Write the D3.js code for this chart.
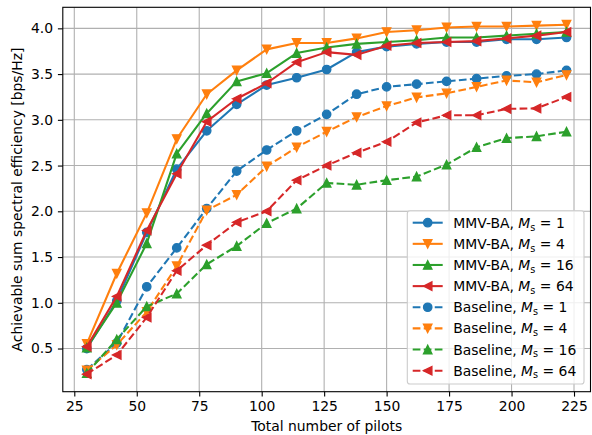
<html>
<head>
    <meta charset="utf-8">
    <title>MMV-BA vs Baseline</title>
    <style>
        body { margin: 0; background: #fff; }
        text { font-family: "DejaVu Sans", sans-serif; }
    </style>
</head>
<body>
<script src="https://cdnjs.cloudflare.com/ajax/libs/d3/7.8.5/d3.min.js"></script>
<script>
    var pilots = [30, 42, 54, 66, 78, 90, 102, 114, 126, 138, 150, 162, 174, 186, 198, 210, 222];
    var mmv1  = [0.50, 1.02, 1.77, 2.46, 2.88, 3.17, 3.38, 3.46, 3.55, 3.74, 3.80, 3.83, 3.85, 3.85, 3.88, 3.88, 3.90];
    var mmv4  = [0.55, 1.32, 1.98, 2.79, 3.28, 3.54, 3.77, 3.84, 3.84, 3.89, 3.96, 3.98, 4.01, 4.02, 4.02, 4.03, 4.04];
    var mmv16 = [0.51, 1.00, 1.65, 2.63, 3.07, 3.42, 3.51, 3.73, 3.79, 3.83, 3.85, 3.87, 3.90, 3.90, 3.92, 3.94, 3.96];
    var mmv64 = [0.52, 1.07, 1.79, 2.41, 2.98, 3.23, 3.40, 3.63, 3.74, 3.71, 3.81, 3.84, 3.85, 3.86, 3.89, 3.92, 3.96];
    var base1  = [0.27, 0.56, 1.175, 1.60, 2.03, 2.44, 2.67, 2.88, 3.06, 3.28, 3.36, 3.39, 3.42, 3.45, 3.48, 3.50, 3.54];
    var base4  = [0.26, 0.54, 0.90, 1.40, 2.01, 2.18, 2.49, 2.70, 2.87, 3.03, 3.15, 3.245, 3.29, 3.36, 3.43, 3.41, 3.49];
    var base16 = [0.23, 0.60, 0.96, 1.10, 1.42, 1.62, 1.87, 2.03, 2.31, 2.29, 2.34, 2.38, 2.51, 2.70, 2.80, 2.82, 2.87];
    var base64 = [0.22, 0.43, 0.84, 1.35, 1.63, 1.88, 2.00, 2.34, 2.50, 2.64, 2.76, 2.97, 3.05, 3.05, 3.12, 3.125, 3.25];
    var xTicks = [25, 50, 75, 100, 125, 150, 175, 200, 225];
    var yTicks = [0.5, 1.0, 1.5, 2.0, 2.5, 3.0, 3.5, 4.0];

    var series = [
        {name: "MMV-BA, ", ms: "1",  values: mmv1,  color: "#1f77b4", marker: "o", dashed: false},
        {name: "MMV-BA, ", ms: "4",  values: mmv4,  color: "#ff7f0e", marker: "v", dashed: false},
        {name: "MMV-BA, ", ms: "16", values: mmv16, color: "#2ca02c", marker: "^", dashed: false},
        {name: "MMV-BA, ", ms: "64", values: mmv64, color: "#d62728", marker: "<", dashed: false},
        {name: "Baseline, ", ms: "1",  values: base1,  color: "#1f77b4", marker: "o", dashed: true},
        {name: "Baseline, ", ms: "4",  values: base4,  color: "#ff7f0e", marker: "v", dashed: true},
        {name: "Baseline, ", ms: "16", values: base16, color: "#2ca02c", marker: "^", dashed: true},
        {name: "Baseline, ", ms: "64", values: base64, color: "#d62728", marker: "<", dashed: true}
    ];

    var width = 592, height = 435;
    var plotL = 62.8, plotR = 590.5, plotT = 7.3, plotB = 391.7;

    var svg = d3.select("body").append("svg")
            .attr("width", width)
            .attr("height", height);

    var x = d3.scaleLinear().domain([20.4, 231.6]).range([plotL, plotR]);
    var y = d3.scaleLinear().domain([0.028, 4.23]).range([plotB, plotT]);

    // grid
    svg.append("g").selectAll("line").data(xTicks).enter().append("line")
            .attr("x1", function(d){ return x(d); }).attr("x2", function(d){ return x(d); })
            .attr("y1", plotT).attr("y2", plotB)
            .attr("stroke", "#b0b0b0").attr("stroke-width", 1.1);
    svg.append("g").selectAll("line").data(yTicks).enter().append("line")
            .attr("y1", function(d){ return y(d); }).attr("y2", function(d){ return y(d); })
            .attr("x1", plotL).attr("x2", plotR)
            .attr("stroke", "#b0b0b0").attr("stroke-width", 1.1);

    function markerPath(type, s) {
        var h = s / 2;
        if (type == "o") return "M" + h + ",0A" + h + "," + h + " 0 1,1 " + (-h) + ",0A" + h + "," + h + " 0 1,1 " + h + ",0Z";
        if (type == "v") return "M0," + h + "L" + (-h) + "," + (-h) + "L" + h + "," + (-h) + "Z";
        if (type == "^") return "M0," + (-h) + "L" + (-h) + "," + h + "L" + h + "," + h + "Z";
        return "M" + (-h) + ",0L" + h + "," + (-h) + "L" + h + "," + h + "Z";
    }

    var line = d3.line()
            .x(function(d, i){ return x(pilots[i]); })
            .y(function(d){ return y(d); });

    var msize = 8.33;
    series.forEach(function(s) {
        var g = svg.append("g");
        g.append("path")
                .attr("d", line(s.values))
                .attr("fill", "none")
                .attr("stroke", s.color)
                .attr("stroke-width", 2.08)
                .attr("stroke-linejoin", "round")
                .attr("stroke-dasharray", s.dashed ? "7.7,3.33" : null);
        g.selectAll("path.m").data(s.values).enter().append("path")
                .attr("class", "m")
                .attr("transform", function(d, i){ return "translate(" + x(pilots[i]) + "," + y(d) + ")"; })
                .attr("d", markerPath(s.marker, msize))
                .attr("fill", s.color)
                .attr("stroke", s.color)
                .attr("stroke-width", 1.39)
                .attr("stroke-linejoin", "miter");
    });

    // axes
    var xAxis = d3.axisBottom(x).tickValues(xTicks).tickSize(4.9).tickPadding(4.9).tickFormat(d3.format("d"));
    var yAxis = d3.axisLeft(y).tickValues(yTicks).tickSize(4.9).tickPadding(4.9).tickFormat(d3.format(".1f"));
    var gx = svg.append("g").attr("transform", "translate(0," + plotB + ")").call(xAxis);
    var gy = svg.append("g").attr("transform", "translate(" + plotL + ",0)").call(yAxis);
    [gx, gy].forEach(function(g) {
        g.select(".domain").remove();
        g.selectAll(".tick line").attr("stroke", "#000").attr("stroke-width", 1.1);
        g.selectAll(".tick text").attr("fill", "#000").style("font-size", "13.9px")
                .style("font-family", "'DejaVu Sans', sans-serif");
    });

    svg.append("rect")
            .attr("x", plotL).attr("y", plotT)
            .attr("width", plotR - plotL).attr("height", plotB - plotT)
            .attr("fill", "none").attr("stroke", "#000").attr("stroke-width", 1.1);

    svg.append("text")
            .attr("x", (plotL + plotR) / 2).attr("y", 431)
            .attr("text-anchor", "middle")
            .style("font-size", "13.9px")
            .text("Total number of pilots");
    svg.append("text")
            .attr("transform", "translate(21.5," + ((plotT + plotB) / 2) + ") rotate(-90)")
            .attr("text-anchor", "middle")
            .style("font-size", "13.9px")
            .text("Achievable sum spectral efficiency [bps/Hz]");

    // legend
    var lg = svg.append("g");
    lg.append("rect")
            .attr("x", 407.3).attr("y", 210.7)
            .attr("width", 176.7).attr("height", 173.3)
            .attr("rx", 2.8).attr("ry", 2.8)
            .attr("fill", "#fff").attr("fill-opacity", 0.8)
            .attr("stroke", "#cccccc").attr("stroke-width", 1.1);
    series.forEach(function(s, i) {
        var cy = 222.7 + i * 21.14;
        lg.append("line")
                .attr("x1", 412.7).attr("x2", 442.7)
                .attr("y1", cy).attr("y2", cy)
                .attr("stroke", s.color).attr("stroke-width", 2.08)
                .attr("stroke-dasharray", s.dashed ? "7.7,3.33" : null);
        lg.append("path")
                .attr("transform", "translate(427.7," + cy + ")")
                .attr("d", markerPath(s.marker, msize))
                .attr("fill", s.color).attr("stroke", s.color).attr("stroke-width", 1.39);
        var t = lg.append("text")
                .attr("x", 453.3).attr("y", cy + 5)
                .style("font-size", "13.9px");
        t.append("tspan").text(s.name);
        t.append("tspan").style("font-style", "italic").text("M");
        t.append("tspan").attr("dy", 2.8).style("font-size", "9.7px").text("s");
        t.append("tspan").attr("dy", -2.8).text(" = " + s.ms);
    });
</script>
</body>
</html>
